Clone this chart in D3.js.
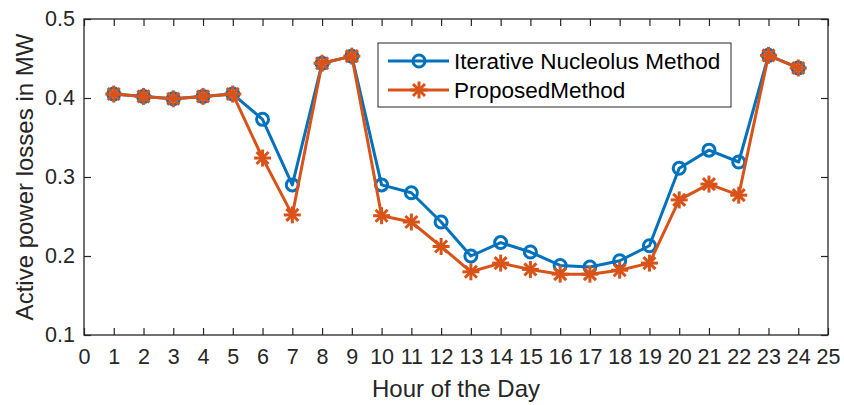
<!DOCTYPE html>
<html>
<head>
<meta charset="utf-8">
<script src="https://cdn.jsdelivr.net/npm/d3@7"></script>
<style>
  body { margin: 0; background: #fff; }
  text { font-family: "Liberation Sans", Arial, sans-serif; fill: #262626; }
</style>
</head>
<body>
<div id="chart"></div>
<script>
const hours = [1, 2, 3, 4, 5, 6, 7, 8, 9, 10, 11, 12, 13, 14, 15, 16, 17, 18, 19, 20, 21, 22, 23, 24];
const nucleolus = [0.405, 0.402, 0.399, 0.402, 0.405, 0.373, 0.290, 0.444, 0.453, 0.290, 0.280, 0.243, 0.200, 0.217, 0.205, 0.188, 0.186, 0.194, 0.213, 0.311, 0.334, 0.319, 0.454, 0.438];
const proposed = [0.405, 0.402, 0.399, 0.402, 0.405, 0.324, 0.252, 0.444, 0.453, 0.251, 0.243, 0.212, 0.180, 0.191, 0.183, 0.177, 0.177, 0.182, 0.191, 0.271, 0.291, 0.277, 0.454, 0.438];
const xTicks = d3.range(0, 26);
const yTicks = [0.1, 0.2, 0.3, 0.4, 0.5];
const seriesNames = ['Iterative Nucleolus Method', 'ProposedMethod'];

const width = 844, height = 405;
const margin = { top: 19, right: 16, bottom: 70, left: 84 };
const innerW = width - margin.left - margin.right;
const innerH = height - margin.top - margin.bottom;
const blue = '#0072BD', orange = '#D95319', axisColor = '#262626';

const svg = d3.select('#chart').append('svg')
  .attr('width', width)
  .attr('height', height);

const plot = svg.append('g')
  .attr('transform', `translate(${margin.left},${margin.top})`);

const x = d3.scaleLinear().domain([0, 25]).range([0, innerW]);
const y = d3.scaleLinear().domain([0.1, 0.5]).range([innerH, 0]);

// axes with inward ticks, box on all sides
const tickLen = 7;
function styleAxis(g) {
  g.select('.domain').remove();
  g.selectAll('line').attr('stroke', axisColor).attr('stroke-width', 1.2);
  g.selectAll('text').style('font-size', '21.5px').attr('fill', axisColor);
}

plot.append('g')
  .attr('transform', `translate(0,${innerH})`)
  .call(d3.axisBottom(x).tickValues(xTicks).tickFormat(d3.format('d')).tickSizeInner(-tickLen).tickSizeOuter(0).tickPadding(14))
  .call(styleAxis);

plot.append('g')
  .call(d3.axisTop(x).tickValues(xTicks).tickFormat('').tickSizeInner(-tickLen).tickSizeOuter(0))
  .call(styleAxis);

plot.append('g')
  .call(d3.axisLeft(y).tickValues(yTicks).tickFormat(d3.format('.1f')).tickSizeInner(-tickLen).tickSizeOuter(0).tickPadding(9))
  .call(styleAxis);

plot.append('g')
  .attr('transform', `translate(${innerW},0)`)
  .call(d3.axisRight(y).tickValues(yTicks).tickFormat('').tickSizeInner(-tickLen).tickSizeOuter(0))
  .call(styleAxis);

plot.append('rect')
  .attr('width', innerW)
  .attr('height', innerH)
  .attr('fill', 'none')
  .attr('stroke', axisColor)
  .attr('stroke-width', 1.3);

// lines
const line = d3.line()
  .x((d, i) => x(hours[i]))
  .y(d => y(d));

function asterisk(g, cx, cy, r, color) {
  const a = g.append('g').attr('transform', `translate(${cx},${cy})`);
  [0, 45, 90, 135].forEach(ang => {
    const rad = ang * Math.PI / 180;
    a.append('line')
      .attr('x1', -r * Math.cos(rad)).attr('y1', -r * Math.sin(rad))
      .attr('x2', r * Math.cos(rad)).attr('y2', r * Math.sin(rad))
      .attr('stroke', color).attr('stroke-width', 3);
  });
}

plot.append('path')
  .datum(nucleolus)
  .attr('d', line)
  .attr('fill', 'none')
  .attr('stroke', blue)
  .attr('stroke-width', 3)
  .attr('stroke-linejoin', 'round');

plot.selectAll('.circ')
  .data(nucleolus)
  .enter()
  .append('circle')
  .attr('class', 'circ')
  .attr('cx', (d, i) => x(hours[i]))
  .attr('cy', d => y(d))
  .attr('r', 6)
  .attr('fill', 'none')
  .attr('stroke', blue)
  .attr('stroke-width', 3);

plot.append('path')
  .datum(proposed)
  .attr('d', line)
  .attr('fill', 'none')
  .attr('stroke', orange)
  .attr('stroke-width', 3)
  .attr('stroke-linejoin', 'round');

const stars = plot.append('g');
proposed.forEach((d, i) => asterisk(stars, x(hours[i]), y(d), 8.5, orange));

// axis titles
svg.append('text')
  .attr('x', margin.left + innerW / 2)
  .attr('y', 397)
  .attr('text-anchor', 'middle')
  .style('font-size', '24px')
  .text('Hour of the Day');

svg.append('text')
  .attr('transform', `translate(33,${margin.top + innerH / 2}) rotate(-90)`)
  .attr('text-anchor', 'middle')
  .style('font-size', '24px')
  .text('Active power losses in MW');

// legend
const legend = svg.append('g').attr('transform', 'translate(378,43)');
legend.append('rect')
  .attr('width', 353)
  .attr('height', 64)
  .attr('fill', '#fff')
  .attr('stroke', axisColor)
  .attr('stroke-width', 1);

const rows = [
  { name: seriesNames[0], color: blue, y: 18, marker: 'o' },
  { name: seriesNames[1], color: orange, y: 47, marker: '*' }
];
rows.forEach(r => {
  legend.append('line')
    .attr('x1', 10).attr('x2', 71)
    .attr('y1', r.y).attr('y2', r.y)
    .attr('stroke', r.color).attr('stroke-width', 3);
  if (r.marker === 'o') {
    legend.append('circle')
      .attr('cx', 41).attr('cy', r.y).attr('r', 6)
      .attr('fill', 'none').attr('stroke', r.color).attr('stroke-width', 3);
  } else {
    asterisk(legend, 41, r.y, 8.5, r.color);
  }
  legend.append('text')
    .attr('x', 76)
    .attr('y', r.y + 8)
    .style('font-size', '22.5px')
    .style('fill', '#000')
    .text(r.name);
});
</script>
</body>
</html>
